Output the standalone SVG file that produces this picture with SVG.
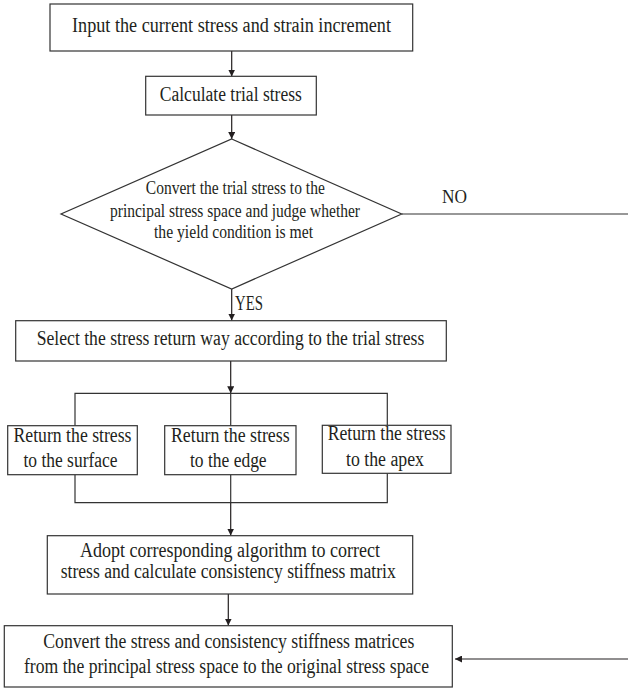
<svg xmlns="http://www.w3.org/2000/svg" width="628" height="688" viewBox="0 0 628 688">
<defs>
<marker id="ah" viewBox="0 0 10 10" refX="10" refY="5" markerWidth="7" markerHeight="7" markerUnits="userSpaceOnUse" orient="auto">
<path d="M0,0 L10,5 L0,10 z" fill="#231f20"/>
</marker>
<style>
.box{fill:#fff;stroke:#333;stroke-width:1.2}
.ln{fill:none;stroke:#333;stroke-width:1.2}
.arr{fill:none;stroke:#231f20;stroke-width:1.2;marker-end:url(#ah)}
text{font-family:"Liberation Serif","Times New Roman",serif;fill:#231f20;text-anchor:middle;font-size:20px}
.sm{font-size:18px}
</style>
</defs>
<rect width="628" height="688" fill="#fff"/>
<g id="connectors">
<line class="arr" x1="231.7" y1="51" x2="231.7" y2="76.5"/>
<line class="arr" x1="231.7" y1="115" x2="231.7" y2="139"/>
<line class="ln" x1="401.7" y1="214" x2="628" y2="214"/>
<line class="arr" x1="231.7" y1="289" x2="231.7" y2="320.5"/>
<line class="arr" x1="230.7" y1="361" x2="230.7" y2="393.3"/>
<polyline class="ln" points="75,425.7 75,393.3 387.3,393.3 387.3,425.3"/>
<line class="ln" x1="230.7" y1="393.3" x2="230.7" y2="425.7"/>
<polyline class="ln" points="75,474.7 75,502.7 387.3,502.7 387.3,473.3"/>
<line class="ln" x1="230.7" y1="474.7" x2="230.7" y2="502.7"/>
<line class="arr" x1="230.7" y1="502.7" x2="230.7" y2="535.5"/>
<line class="arr" x1="228.3" y1="594" x2="228.3" y2="625.5"/>
<line class="arr" x1="628" y1="659" x2="455" y2="659"/>
<text class="sm" x="454.5" y="203" textLength="25" lengthAdjust="spacingAndGlyphs">NO</text>
<text x="249" y="310" textLength="28" lengthAdjust="spacingAndGlyphs">YES</text>
</g>
<g id="n1">
<rect class="box" x="50" y="4" width="362.7" height="47"/>
<text x="231.5" y="32" textLength="319" lengthAdjust="spacingAndGlyphs">Input the current stress and strain increment</text>
</g>
<g id="n2">
<rect class="box" x="145.7" y="76.3" width="170.6" height="38.7"/>
<text x="230.8" y="100.7" textLength="142" lengthAdjust="spacingAndGlyphs">Calculate trial stress</text>
</g>
<g id="n3">
<polygon class="box" points="231.7,139 401.7,214 231.7,289 61,214"/>
<text class="sm" x="235.3" y="194" textLength="179" lengthAdjust="spacingAndGlyphs">Convert the trial stress to the</text>
<text class="sm" x="235" y="216.7" textLength="250" lengthAdjust="spacingAndGlyphs">principal stress space and judge whether</text>
<text class="sm" x="233.5" y="238.3" textLength="159" lengthAdjust="spacingAndGlyphs">the yield condition is met</text>
</g>
<g id="n4">
<rect class="box" x="15.7" y="320.7" width="430.6" height="40.3"/>
<text x="230.5" y="345" textLength="387.6" lengthAdjust="spacingAndGlyphs">Select the stress return way according to the trial stress</text>
</g>
<g id="n5">
<rect class="box" x="7.7" y="425.7" width="129.6" height="49"/>
<text x="72.5" y="441.7" textLength="118" lengthAdjust="spacingAndGlyphs">Return the stress</text>
<text x="70.5" y="466.7" textLength="94" lengthAdjust="spacingAndGlyphs">to the surface</text>
</g>
<g id="n6">
<rect class="box" x="164.7" y="425.7" width="131.3" height="49"/>
<text x="230.3" y="441.7" textLength="118.7" lengthAdjust="spacingAndGlyphs">Return the stress</text>
<text x="228.3" y="466.7" textLength="76.7" lengthAdjust="spacingAndGlyphs">to the edge</text>
</g>
<g id="n7">
<rect class="box" x="322.3" y="425.3" width="128.7" height="48"/>
<text x="386.7" y="440" textLength="118" lengthAdjust="spacingAndGlyphs">Return the stress</text>
<text x="385" y="465.7" textLength="78" lengthAdjust="spacingAndGlyphs">to the apex</text>
</g>
<g id="n8">
<rect class="box" x="47.3" y="535.7" width="365.4" height="58.3"/>
<text x="230" y="557.3" textLength="300" lengthAdjust="spacingAndGlyphs">Adopt corresponding algorithm to correct</text>
<text x="228.2" y="578.3" textLength="335" lengthAdjust="spacingAndGlyphs">stress and calculate consistency stiffness matrix</text>
</g>
<g id="n9">
<rect class="box" x="4.3" y="625.7" width="448" height="61.3"/>
<text x="228.8" y="648.3" textLength="371" lengthAdjust="spacingAndGlyphs">Convert the stress and consistency stiffness matrices</text>
<text x="226.5" y="673.3" textLength="405" lengthAdjust="spacingAndGlyphs">from the principal stress space to the original stress space</text>
</g>
</svg>
